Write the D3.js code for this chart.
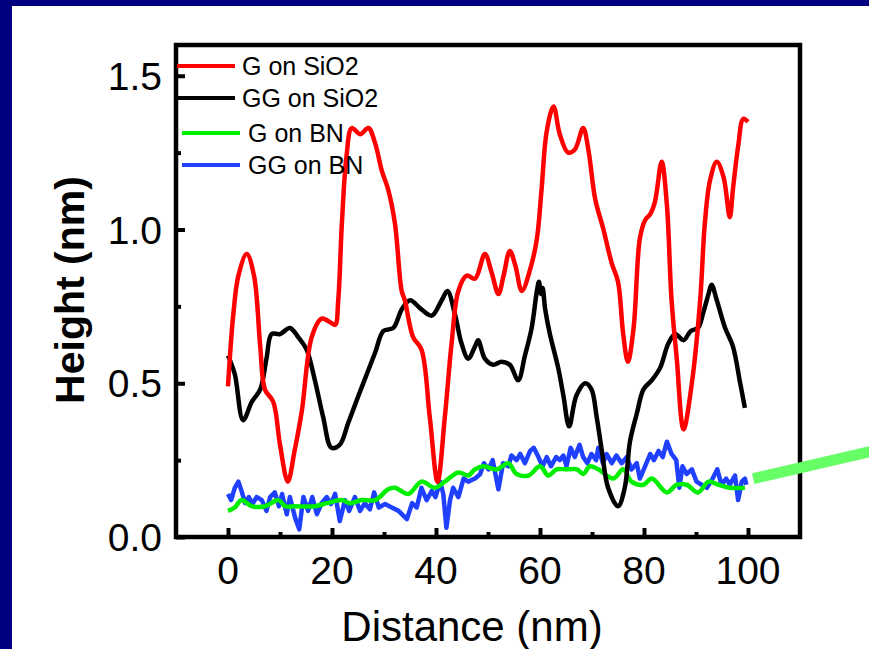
<!DOCTYPE html>
<html>
<head>
<meta charset="utf-8">
<script src="https://cdn.jsdelivr.net/npm/d3@7"></script>
<style>
  body { margin: 0; padding: 0; background: #fff; }
  svg { display: block; font-family: "Liberation Sans", Arial, sans-serif; }
</style>
</head>
<body>
<div id="graph"></div>
<script>
// Height profiles (nm) along a 100 nm line scan

var redX = [0, 1.0, 2.0, 3.6, 5.0, 6.2, 7.1, 8.7, 10.0, 11.5, 12.8, 14.2, 16.1, 18.0, 19.5, 20.6, 21.2, 21.9, 22.8, 23.8, 25.4, 27.0, 28.3, 29.6, 30.8, 32.1, 33.4, 34.0, 35.6, 37.2, 38.8, 40.3, 41.7, 43.0, 44.3, 45.9, 47.5, 49.4, 50.7, 52.0, 53.0, 54.2, 55.3, 56.5, 58.1, 59.4, 60.3, 61.3, 62.6, 63.8, 65.4, 66.7, 68.3, 69.3, 70.6, 72.2, 73.8, 75.0, 76.0, 76.9, 78.0, 79.2, 80.2, 81.2, 82.1, 83.4, 84.4, 85.3, 86.3, 87.6, 89.2, 90.8, 91.7, 92.7, 94.0, 95.3, 96.5, 97.1, 98.1, 99.1, 100];
var redY = [0.49, 0.72, 0.85, 0.92, 0.85, 0.62, 0.48, 0.44, 0.30, 0.18, 0.28, 0.41, 0.65, 0.71, 0.70, 0.69, 0.77, 1.02, 1.24, 1.33, 1.31, 1.33, 1.28, 1.19, 1.13, 1.02, 0.80, 0.77, 0.65, 0.61, 0.39, 0.18, 0.39, 0.63, 0.80, 0.85, 0.84, 0.92, 0.86, 0.79, 0.85, 0.93, 0.88, 0.80, 0.87, 0.97, 1.13, 1.32, 1.40, 1.31, 1.25, 1.26, 1.33, 1.26, 1.10, 1.00, 0.89, 0.83, 0.66, 0.57, 0.68, 0.97, 1.03, 1.05, 1.09, 1.22, 1.08, 0.77, 0.58, 0.35, 0.50, 0.77, 1.02, 1.16, 1.22, 1.17, 1.04, 1.13, 1.27, 1.36, 1.35];

var blackX = [0, 1.3, 2.9, 4.6, 6.2, 7.4, 8.4, 10, 11.9, 13.5, 15.1, 16.7, 18.3, 19.9, 21.5, 23.1, 25.1, 26.7, 28.3, 29.9, 31.8, 33.4, 35, 37.2, 39.2, 41.1, 42.2, 43.7, 44.9, 46.2, 47.5, 48.1, 49.4, 51, 52.6, 54.2, 55.8, 57.1, 58.4, 59.4, 59.8, 60.2, 60.5, 61, 61.9, 63.5, 64.5, 65.6, 67, 68.7, 69.9, 70.9, 71.9, 73.1, 75, 76.3, 77.3, 78.6, 79.9, 81.5, 83.1, 84.7, 86, 87.6, 89, 90.4, 91.4, 92.4, 93, 94, 95.6, 97.1, 98.5, 99.4];
var blackY = [0.59, 0.53, 0.38, 0.44, 0.48, 0.58, 0.66, 0.66, 0.68, 0.65, 0.61, 0.51, 0.39, 0.29, 0.30, 0.37, 0.46, 0.53, 0.60, 0.67, 0.68, 0.74, 0.77, 0.74, 0.72, 0.77, 0.80, 0.72, 0.63, 0.58, 0.62, 0.64, 0.58, 0.56, 0.57, 0.56, 0.51, 0.59, 0.68, 0.80, 0.83, 0.79, 0.81, 0.74, 0.66, 0.55, 0.46, 0.36, 0.46, 0.50, 0.48, 0.39, 0.28, 0.16, 0.10, 0.16, 0.31, 0.40, 0.48, 0.51, 0.55, 0.63, 0.66, 0.64, 0.67, 0.68, 0.73, 0.79, 0.82, 0.77, 0.68, 0.62, 0.50, 0.42];

var greenX = [0, 1.3, 2.6, 4.6, 7.1, 9.7, 11, 12.9, 16.7, 19, 21.9, 23.5, 25.7, 28.3, 30.8, 32.1, 34.7, 37.2, 39.8, 41.7, 44.3, 46.2, 47.5, 49.1, 51.7, 53.9, 55.5, 57.8, 60, 61.6, 63.2, 65.1, 67.1, 68.3, 69.6, 71.2, 74.1, 76, 77.6, 79.9, 81.5, 84.4, 86.3, 88.2, 90.4, 92.4, 94.3, 96.5, 99.4];
var greenY = [0.085, 0.096, 0.12, 0.10, 0.10, 0.12, 0.10, 0.10, 0.10, 0.11, 0.12, 0.11, 0.12, 0.12, 0.155, 0.16, 0.14, 0.18, 0.16, 0.18, 0.21, 0.20, 0.22, 0.23, 0.22, 0.24, 0.205, 0.20, 0.23, 0.20, 0.22, 0.22, 0.22, 0.205, 0.23, 0.22, 0.19, 0.22, 0.18, 0.17, 0.19, 0.145, 0.17, 0.17, 0.145, 0.18, 0.17, 0.16, 0.16];

var blueX = [0, 0.6, 1.3, 2, 2.6, 3.3, 4, 4.7, 5.5, 6.5, 7.4, 8.1, 9, 9.8, 10.4, 11.3, 11.9, 12.9, 13.7, 14.5, 15.4, 16.2, 17.1, 18, 19, 19.8, 20.6, 21.5, 22.5, 23.3, 24.4, 25.4, 26.3, 27.3, 28.1, 29, 30.2, 31.5, 32.8, 34.4, 35.4, 36.3, 37.2, 38.2, 39.2, 39.9, 40.8, 41.4, 42, 42.7, 43.3, 44.3, 45.3, 46.2, 47.5, 48.5, 49.2, 50.1, 50.9, 52, 52.9, 53.9, 54.5, 55.5, 56.2, 57.1, 58.1, 58.8, 59.7, 60.5, 61.3, 62.1, 63.1, 63.8, 64.5, 65.1, 65.9, 66.7, 67.6, 68.3, 69.1, 69.9, 70.8, 71.2, 72.1, 72.8, 73.8, 74.7, 75.7, 76.7, 77.6, 78.6, 79.2, 80.2, 81.2, 81.9, 82.8, 83.6, 84.4, 85.3, 86.2, 86.8, 87.4, 88.2, 89.2, 90.1, 91.1, 92.1, 93.2, 94.1, 94.9, 95.8, 96.5, 97.5, 98.1, 98.8, 99.4, 99.7];
var blueY = [0.14, 0.12, 0.16, 0.18, 0.15, 0.11, 0.13, 0.107, 0.13, 0.12, 0.085, 0.13, 0.145, 0.10, 0.14, 0.074, 0.13, 0.063, 0.025, 0.13, 0.085, 0.13, 0.074, 0.11, 0.13, 0.107, 0.14, 0.052, 0.12, 0.085, 0.13, 0.085, 0.11, 0.09, 0.145, 0.096, 0.107, 0.096, 0.085, 0.058, 0.11, 0.096, 0.16, 0.12, 0.15, 0.13, 0.18, 0.14, 0.03, 0.12, 0.16, 0.13, 0.19, 0.18, 0.19, 0.205, 0.24, 0.22, 0.25, 0.155, 0.24, 0.23, 0.265, 0.25, 0.27, 0.24, 0.28, 0.29, 0.26, 0.23, 0.26, 0.23, 0.26, 0.25, 0.265, 0.23, 0.29, 0.26, 0.30, 0.26, 0.24, 0.27, 0.25, 0.29, 0.24, 0.27, 0.24, 0.265, 0.24, 0.26, 0.22, 0.24, 0.19, 0.23, 0.27, 0.25, 0.28, 0.26, 0.31, 0.27, 0.25, 0.16, 0.23, 0.205, 0.22, 0.18, 0.17, 0.16, 0.19, 0.22, 0.17, 0.19, 0.17, 0.20, 0.12, 0.18, 0.19, 0.17];

var seriesNames = ["G on SiO2", "GG on SiO2", "G on BN", "GG on BN"];
var seriesColors = ["#ff0000", "#000000", "#00ee00", "#2040ff"];

var xTicks = [0, 20, 40, 60, 80, 100];
var xMinorTicks = [10, 30, 50, 70, 90];
var yTicks = [0.0, 0.5, 1.0, 1.5];
var yMinorTicks = [0.25, 0.75, 1.25];

// pointer line off to the right (data units)
var pointerFrom = [101, 0.19];
var pointerTo = [124, 0.28];

var width = 869;
var height = 649;

var svg = d3.select("#graph")
  .append("svg")
    .attr("width", width)
    .attr("height", height);

// slide background: navy edge on left and top
svg.append("rect")
    .attr("width", width).attr("height", height)
    .attr("fill", "#000080");
svg.append("rect")
    .attr("x", 12).attr("y", 6)
    .attr("width", width - 12).attr("height", height - 6)
    .attr("fill", "#ffffff");

var x = d3.scaleLinear().domain([-10, 110]).range([176, 800]);
var y = d3.scaleLinear().domain([0, 1.6]).range([537, 45]);

function zip(xs, ys) {
    return xs.map(function(v, i) { return [v, ys[i]]; });
}

var series = [
    { name: seriesNames[0], color: seriesColors[0], pts: zip(redX, redY), curve: d3.curveCatmullRom.alpha(0.5), w: 4.5 },
    { name: seriesNames[1], color: seriesColors[1], pts: zip(blackX, blackY), curve: d3.curveCatmullRom.alpha(0.5), w: 4.5 },
    { name: seriesNames[2], color: seriesColors[2], pts: zip(greenX, greenY), curve: d3.curveCatmullRom.alpha(0.5), w: 4.5 },
    { name: seriesNames[3], color: seriesColors[3], pts: zip(blueX, blueY), curve: d3.curveLinear, w: 4.5 }
];

var plot = svg.append("g");

var drawOrder = [3, 2, 1, 0];
drawOrder.forEach(function(i) {
    var s = series[i];
    var line = d3.line()
        .x(function(d) { return x(d[0]); })
        .y(function(d) { return y(d[1]); })
        .curve(s.curve);
    plot.append("path")
        .datum(s.pts)
        .attr("fill", "none")
        .attr("stroke", s.color)
        .attr("stroke-width", s.w)
        .attr("stroke-linejoin", "round")
        .attr("d", line);
});

// frame
var frame = svg.append("g");
frame.append("rect")
    .attr("x", x.range()[0]).attr("y", y.range()[1])
    .attr("width", x.range()[1] - x.range()[0])
    .attr("height", y.range()[0] - y.range()[1])
    .attr("fill", "none")
    .attr("stroke", "#000")
    .attr("stroke-width", 4.5);

// ticks pointing inward
var xAxis = d3.axisTop(x).tickValues(xTicks).tickSize(9).tickFormat("");
var xAxisMinor = d3.axisTop(x).tickValues(xMinorTicks).tickSize(5).tickFormat("");
var yAxis = d3.axisRight(y).tickValues(yTicks).tickSize(9).tickFormat("");
var yAxisMinor = d3.axisRight(y).tickValues(yMinorTicks).tickSize(5).tickFormat("");

[[xAxis, "translate(0," + y.range()[0] + ")"], [xAxisMinor, "translate(0," + y.range()[0] + ")"],
 [yAxis, "translate(" + x.range()[0] + ",0)"], [yAxisMinor, "translate(" + x.range()[0] + ",0)"]].forEach(function(a) {
    var g = svg.append("g").attr("transform", a[1]).call(a[0]);
    g.select(".domain").remove();
    g.selectAll("line").attr("stroke", "#000").attr("stroke-width", 4);
});

// tick labels
svg.append("g").selectAll("text")
    .data(xTicks).enter()
    .append("text")
    .attr("x", function(d) { return x(d); })
    .attr("y", 584)
    .attr("text-anchor", "middle")
    .attr("font-size", 39)
    .text(function(d) { return d; });

svg.append("g").selectAll("text")
    .data(yTicks).enter()
    .append("text")
    .attr("x", 162)
    .attr("y", function(d) { return y(d) + 14; })
    .attr("text-anchor", "end")
    .attr("font-size", 39)
    .text(function(d) { return d.toFixed(1); });

// axis titles
svg.append("text")
    .attr("x", 472).attr("y", 641)
    .attr("text-anchor", "middle")
    .attr("font-size", 42)
    .text("Distance (nm)");

svg.append("text")
    .attr("transform", "translate(84,290) rotate(-90)")
    .attr("text-anchor", "middle")
    .attr("font-size", 41)
    .attr("font-weight", "bold")
    .text("Height (nm)");

// legend
var legendRows = [
    { x1: 177, x2: 235, ly: 66, tx: 242 },
    { x1: 177, x2: 235, ly: 98, tx: 242 },
    { x1: 182, x2: 240, ly: 133, tx: 248 },
    { x1: 182, x2: 240, ly: 165, tx: 248 }
];
var legend = svg.append("g");
series.forEach(function(s, i) {
    var r = legendRows[i];
    legend.append("line")
        .attr("x1", r.x1).attr("x2", r.x2)
        .attr("y1", r.ly).attr("y2", r.ly)
        .attr("stroke", s.color)
        .attr("stroke-width", 4);
    legend.append("text")
        .attr("x", r.tx).attr("y", r.ly + 9)
        .attr("font-size", 25)
        .text(s.name);
});

// pointer bar
svg.append("line")
    .attr("x1", x(pointerFrom[0])).attr("y1", y(pointerFrom[1]))
    .attr("x2", x(pointerTo[0])).attr("y2", y(pointerTo[1]))
    .attr("stroke", "#66ff66")
    .attr("stroke-width", 11);
</script>
</body>
</html>
